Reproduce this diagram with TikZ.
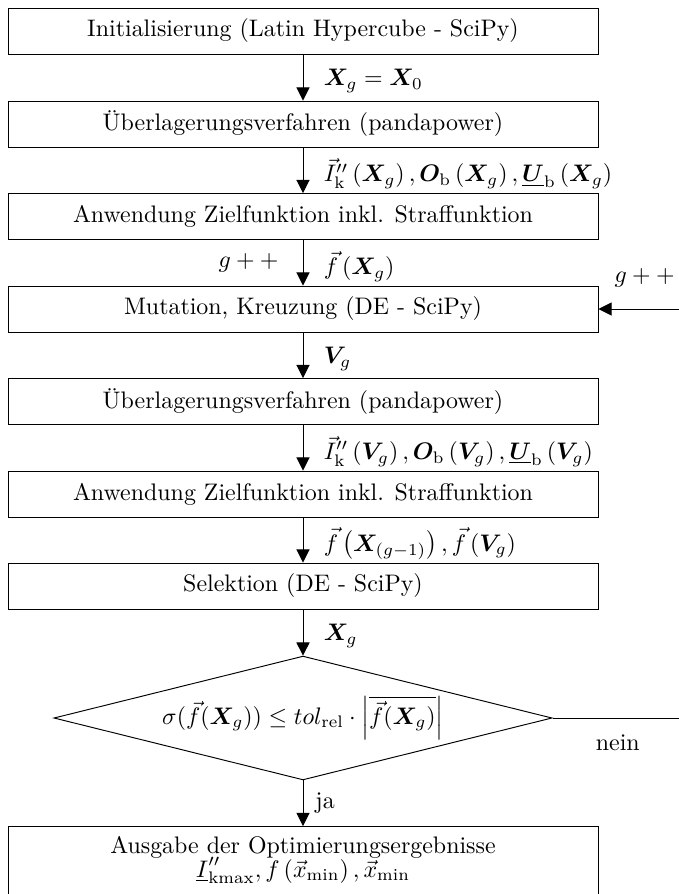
\documentclass[tikz,border=0pt]{standalone}
\usepackage{amsmath}
\usepackage{bm}
\usepackage{fontspec}
\usetikzlibrary{arrows.meta,shapes.geometric}

\begin{document}
\begin{tikzpicture}[
		x=0.0147cm, y=-0.0147cm,
		blk/.style={draw, rectangle, minimum width=8.67cm, minimum height=0.676cm, inner sep=2pt},
		chk/.style={draw, diamond, aspect=4, minimum width=7.32cm, minimum height=1.82cm, inner sep=0pt},
		arr/.style={-{Triangle[length=5.5pt, width=5.5pt]}},
		lbl/.style={inner sep=2pt},
		lblr/.style={lbl, right=6.5pt, yshift=-1.5pt},
		line width=0.4pt
		]
		\useasboundingbox (0,0) rectangle (679,894);
		\clip (0,0) rectangle (679,894);
		% --- Initialisierung ---
		\node[blk] (init) at (303,31) {Initialisierung (Latin Hypercube - SciPy)};
		\node[blk] (ueb1) at (303,124) {Überlagerungsverfahren (pandapower)};
		\node[blk] (ziel1) at (303,216.5) {Anwendung Zielfunktion inkl. Straffunktion};
		% --- Schleife DE ---
		\node[blk] (mut) at (303,309) {Mutation, Kreuzung (DE - SciPy)};
		\node[blk] (ueb2) at (303,401.5) {Überlagerungsverfahren (pandapower)};
		\node[blk] (ziel2) at (303,494) {Anwendung Zielfunktion inkl. Straffunktion};
		\node[blk] (sel) at (303,586) {Selektion (DE - SciPy)};
		\node[chk] (abbr) at (303,718) {$\sigma(\vec{f}(\bm{X}_g)) \leq tol_{\mathrm{rel}} \cdot \left|\overline{\vec{f}(\bm{X}_g)}\right|$};
		% --- Ausgabe ---
		\node[blk, anchor=north, align=center, inner ysep=4pt] (aus) at (303,826) {Ausgabe der Optimierungsergebnisse\\[-2pt] $\underline{I}''_{\mathrm{kmax}},f\left(\vec{x}_{\mathrm{min}}\right),\vec{x}_{\mathrm{min}}$\\[-4pt]\strut};
		\coordinate (rueck) at (720,718);
		% --- Pfeile ---
		\draw[arr] (init) -- node[lblr] (l1) {$\bm{X}_g = \bm{X}_0$} (ueb1);
		\draw[arr] (ueb1) -- node[lblr] (l2) {$\vec{I}''_{\mathrm{k}}\left(\bm{X}_g\right),\bm{O}_{\mathrm{b}}\left(\bm{X}_g\right),\underline{\bm{U}}_{\mathrm{b}}\left(\bm{X}_g\right)$} (ziel1);
		\draw[arr] (ziel1) -- node[lblr] (l3) {$\vec{f}\left(\bm{X}_g\right)$} node[lbl, left=8pt] (l3b) {$g++$} (mut);
		\draw[arr] (mut) -- node[lblr] (l4) {$\bm{V}_g$} (ueb2);
		\draw[arr] (ueb2) -- node[lblr] (l5) {$\vec{I}''_{\mathrm{k}}\left(\bm{V}_g\right),\bm{O}_{\mathrm{b}}\left(\bm{V}_g\right),\underline{\bm{U}}_{\mathrm{b}}\left(\bm{V}_g\right)$} (ziel2);
		\draw[arr] (ziel2) -- node[lblr] (l6) {$\vec{f}\left(\bm{X}_{(g-1)}\right),\vec{f}\left(\bm{V}_g\right)$} (sel);
		\draw[arr] (sel) -- node[lblr] (l7) {$\bm{X}_g$} (abbr);
		\draw[arr] (abbr) -- node[lbl, right=3pt] (ja) {ja} (aus);
		\draw (abbr.east) -- node[lbl, below=5pt, pos=0.39] (nein) {nein} (rueck);
		\draw[arr] (rueck) |- node[lbl, above=7pt, pos=0.81] (gpp) {$g++$} (mut.east);
\end{tikzpicture}
\end{document}
